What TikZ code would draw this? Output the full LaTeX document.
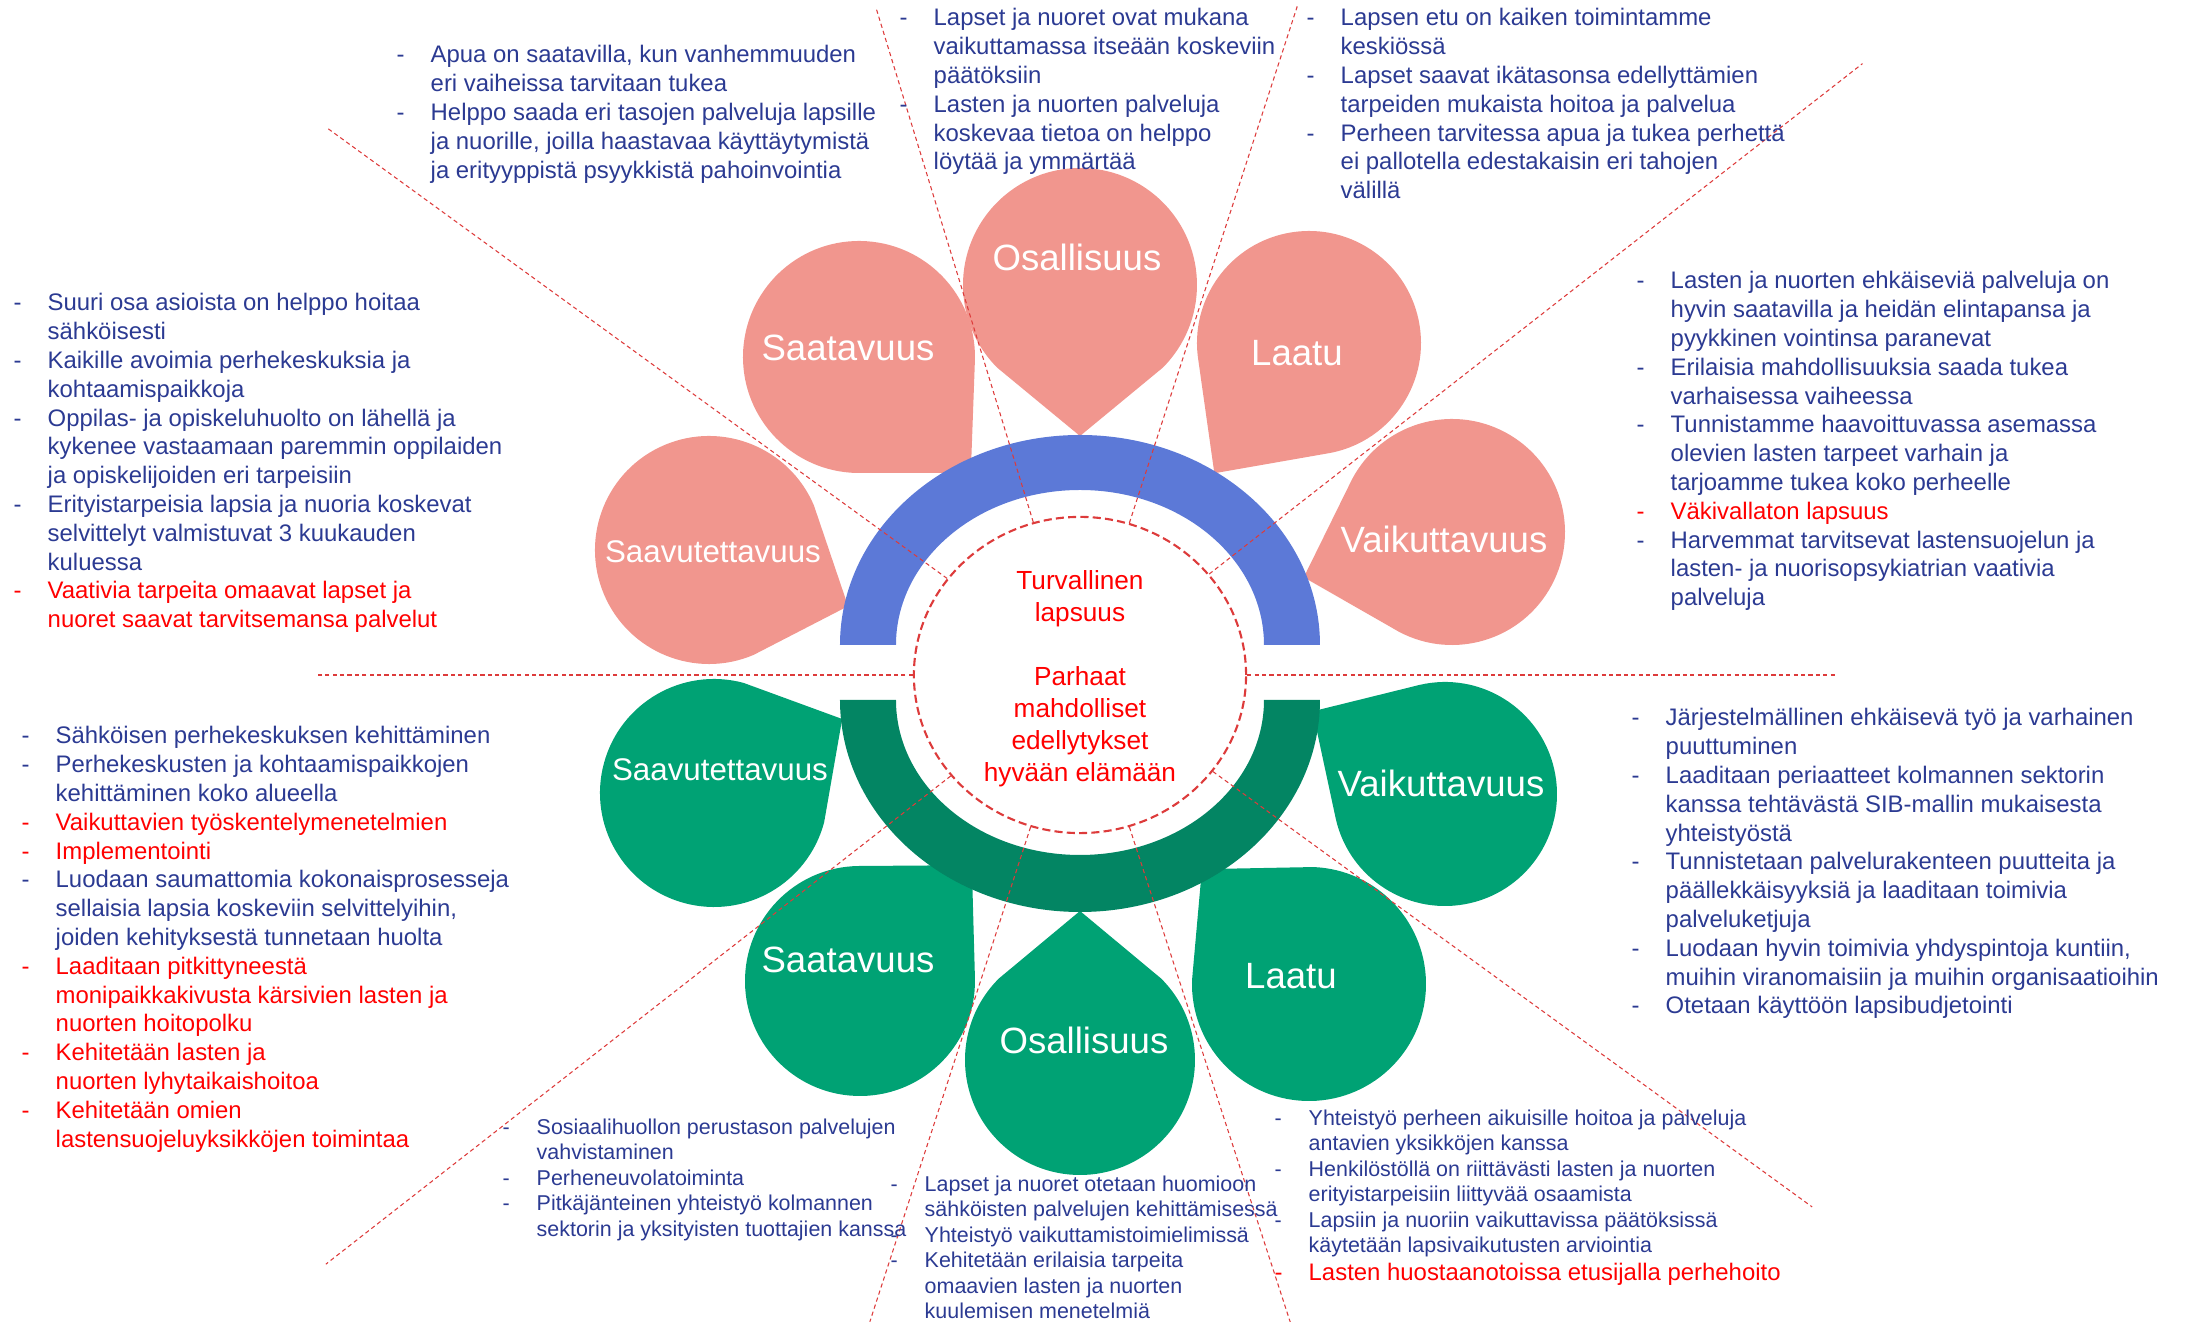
\documentclass[tikz,border=0pt]{standalone}
\usepackage{fontspec}
\setmainfont{Liberation Sans}
\usepackage{tikz}
\usetikzlibrary{shapes.geometric}

\definecolor{petalpink}{HTML}{F1968E}
\definecolor{petalgreen}{HTML}{00A274}
\definecolor{arcblue}{HTML}{5C79D7}
\definecolor{arcgreen}{HTML}{038563}
\definecolor{textnavy}{HTML}{2B3A92}
\definecolor{textred}{HTML}{FF0000}
\definecolor{rayred}{HTML}{DD3B3B}

\newlength{\bulw}
\setlength{\bulw}{0.34cm}
\newcommand{\bitem}{\strut\makebox[\bulw][l]{-}}
\newcommand{\bcont}{\strut\hspace*{\bulw}}
\newcommand{\hot}[1]{\leavevmode\textcolor{textred}{#1}}

\begin{document}
\begin{tikzpicture}[
    x=0.01cm, y=0.01cm,
    pinkpetal/.style={fill=petalpink},
    greenpetal/.style={fill=petalgreen},
    petallabel/.style={text=white, font=\fontsize{10.4}{12.5}\selectfont},
    longlabel/.style={petallabel, font=\fontsize{8.9}{10.7}\selectfont},
    hubring/.style={ellipse, draw=rayred, line width=0.6pt, dash pattern=on 2.3pt off 1.2pt,
        minimum width=3.32cm, minimum height=3.16cm, inner sep=0pt},
    raydash/.style={draw=rayred, line width=0.3pt, dash pattern=on 1.2pt off 0.9pt},
    goaltext/.style={text=textred, align=center, inner sep=0pt, font=\fontsize{7.45}{9.1}\selectfont},
    notebox/.style={anchor=north west, inner sep=0pt, align=left, text=textnavy,
        font=\fontsize{6.8}{8.19}\selectfont},
    smallnote/.style={notebox, font=\fontsize{6.1}{7.23}\selectfont}
]
    \useasboundingbox (-1080,-647) rectangle (1107,675);

    % Upper (pink) petals, each tip turned to the middle
    \fill[pinkpetal, shift={(-371,125)}, rotate=-22] (45:114) arc[start angle=45, end angle=315, radius=114] -- (0:150) -- cycle;
    \fill[pinkpetal, shift={(-221,318)}, rotate=-46] (45:116) arc[start angle=45, end angle=315, radius=116] -- (0:161) -- cycle;
    \fill[pinkpetal, shift={(0,390)}, rotate=-90] (45:117) arc[start angle=45, end angle=315, radius=117] -- (0:151) -- cycle;
    \fill[pinkpetal, shift={(229,332)}, rotate=234] (45:112) arc[start angle=45, end angle=315, radius=112] -- (0:161) -- cycle;
    \fill[pinkpetal, shift={(372,143)}, rotate=197] (45:113) arc[start angle=45, end angle=315, radius=113] -- (0:155) -- cycle;

    % Lower (green) petals
    \fill[greenpetal, shift={(-366,-118)}, rotate=30] (45:114) arc[start angle=45, end angle=315, radius=114] -- (0:148) -- cycle;
    \fill[greenpetal, shift={(-220,-306)}, rotate=46] (45:115) arc[start angle=45, end angle=315, radius=115] -- (0:161) -- cycle;
    \fill[greenpetal, shift={(0,-385)}, rotate=90] (45:115) arc[start angle=45, end angle=315, radius=115] -- (0:149) -- cycle;
    \fill[greenpetal, shift={(229,-309)}, rotate=133] (45:117) arc[start angle=45, end angle=315, radius=117] -- (0:157) -- cycle;
    \fill[greenpetal, shift={(365,-119)}, rotate=148] (45:112) arc[start angle=45, end angle=315, radius=112] -- (0:156) -- cycle;

    % The two half rings
    \fill[arcblue] (-240,30) arc[start angle=180, end angle=0, x radius=240, y radius=210]
        -- (184,30) arc[start angle=0, end angle=180, x radius=184, y radius=155] -- cycle;
    \fill[arcgreen] (-240,-25) arc[start angle=180, end angle=360, x radius=240, y radius=212]
        -- (184,-25) arc[start angle=0, end angle=-180, x radius=184, y radius=155] -- cycle;

    % Petal names
    \node[longlabel] (pSaav) at (-367,123) {Saavutettavuus};
    \node[petallabel] (pSaat) at (-232,327) {Saatavuus};
    \node[petallabel] (pOsal) at (-3,418) {Osallisuus};
    \node[petallabel] (pLaat) at (217,322) {Laatu};
    \node[petallabel] (pVaik) at (364,136) {Vaikuttavuus};
    \node[longlabel] (gSaav) at (-360,-95) {Saavutettavuus};
    \node[petallabel] (gSaat) at (-232,-285) {Saatavuus};
    \node[petallabel] (gOsal) at (4,-365) {Osallisuus};
    \node[petallabel] (gLaat) at (211,-301) {Laatu};
    \node[petallabel] (gVaik) at (361,-108) {Vaikuttavuus};

    % Middle
    \node[hubring] (hub) at (0,0) {};
    \node[goaltext] (goal) at (0,-4) {Turvallinen\\lapsuus\\[9.1pt]Parhaat\\mahdolliset\\edellytykset\\hyvään elämään};

    % Dashed dividers from the middle
    \path[raydash]
        (hub.0) edge (0:756)
        (hub.38) edge (38:993)
        (hub.72) edge (72:703)
        (hub.107) edge (107:698)
        (hub.144) edge (144:930)
        (hub.180) edge (180:764)
        (hub.218) edge (218:957)
        (hub.252) edge (252:680)
        (hub.288) edge (288:682)
        (hub.324) edge (324:905);

    % Aims for the upper petals
    \node[notebox] (tpSaat) at (-684,633) {\bitem Apua on saatavilla, kun vanhemmuuden\\
        \bcont eri vaiheissa tarvitaan tukea\\
        \bitem Helppo saada eri tasojen palveluja lapsille\\
        \bcont ja nuorille, joilla haastavaa käyttäytymistä\\
        \bcont ja erityyppistä psyykkistä pahoinvointia};
    \node[notebox] (tpSaav) at (-1067,385) {\bitem Suuri osa asioista on helppo hoitaa\\
        \bcont sähköisesti\\
        \bitem Kaikille avoimia perhekeskuksia ja\\
        \bcont kohtaamispaikkoja\\
        \bitem Oppilas- ja opiskeluhuolto on lähellä ja\\
        \bcont kykenee vastaamaan paremmin oppilaiden\\
        \bcont ja opiskelijoiden eri tarpeisiin\\
        \bitem Erityistarpeisia lapsia ja nuoria koskevat\\
        \bcont selvittelyt valmistuvat 3 kuukauden\\
        \bcont kuluessa\\
        \hot{\bitem Vaativia tarpeita omaavat lapset ja}\\
        \hot{\bcont nuoret saavat tarvitsemansa palvelut}};
    \node[notebox] (tpOsal) at (-181,670) {\bitem Lapset ja nuoret ovat mukana\\
        \bcont vaikuttamassa itseään koskeviin\\
        \bcont päätöksiin\\
        \bitem Lasten ja nuorten palveluja\\
        \bcont koskevaa tietoa on helppo\\
        \bcont löytää ja ymmärtää};
    \node[notebox] (tpLaat) at (226,670) {\bitem Lapsen etu on kaiken toimintamme\\
        \bcont keskiössä\\
        \bitem Lapset saavat ikätasonsa edellyttämien\\
        \bcont tarpeiden mukaista hoitoa ja palvelua\\
        \bitem Perheen tarvitessa apua ja tukea perhettä\\
        \bcont ei pallotella edestakaisin eri tahojen\\
        \bcont välillä};
    \node[notebox] (tpVaik) at (556,407) {\bitem Lasten ja nuorten ehkäiseviä palveluja on\\
        \bcont hyvin saatavilla ja heidän elintapansa ja\\
        \bcont pyykkinen vointinsa paranevat\\
        \bitem Erilaisia mahdollisuuksia saada tukea\\
        \bcont varhaisessa vaiheessa\\
        \bitem Tunnistamme haavoittuvassa asemassa\\
        \bcont olevien lasten tarpeet varhain ja\\
        \bcont tarjoamme tukea koko perheelle\\
        \hot{\bitem Väkivallaton lapsuus}\\
        \bitem Harvemmat tarvitsevat lastensuojelun ja\\
        \bcont lasten- ja nuorisopsykiatrian vaativia\\
        \bcont palveluja};

    % Actions for the lower petals
    \node[notebox] (tgSaav) at (-1059,-48) {\bitem Sähköisen perhekeskuksen kehittäminen\\
        \bitem Perhekeskusten ja kohtaamispaikkojen\\
        \bcont kehittäminen koko alueella\\
        \hot{\bitem Vaikuttavien työskentelymenetelmien}\\
        \hot{\bitem Implementointi}\\
        \bitem Luodaan saumattomia kokonaisprosesseja\\
        \bcont sellaisia lapsia koskeviin selvittelyihin,\\
        \bcont joiden kehityksestä tunnetaan huolta\\
        \hot{\bitem Laaditaan pitkittyneestä}\\
        \hot{\bcont monipaikkakivusta kärsivien lasten ja}\\
        \hot{\bcont nuorten hoitopolku}\\
        \hot{\bitem Kehitetään lasten ja}\\
        \hot{\bcont nuorten lyhytaikaishoitoa}\\
        \hot{\bitem Kehitetään omien}\\
        \hot{\bcont lastensuojeluyksikköjen toimintaa}};
    \node[notebox] (tgVaik) at (551,-30) {\bitem Järjestelmällinen ehkäisevä työ ja varhainen\\
        \bcont puuttuminen\\
        \bitem Laaditaan periaatteet kolmannen sektorin\\
        \bcont kanssa tehtävästä SIB-mallin mukaisesta\\
        \bcont yhteistyöstä\\
        \bitem Tunnistetaan palvelurakenteen puutteita ja\\
        \bcont päällekkäisyyksiä ja laaditaan toimivia\\
        \bcont palveluketjuja\\
        \bitem Luodaan hyvin toimivia yhdyspintoja kuntiin,\\
        \bcont muihin viranomaisiin ja muihin organisaatioihin\\
        \bitem Otetaan käyttöön lapsibudjetointi};
    \node[smallnote] (tgSaat) at (-578,-441) {\bitem Sosiaalihuollon perustason palvelujen\\
        \bcont vahvistaminen\\
        \bitem Perheneuvolatoiminta\\
        \bitem Pitkäjänteinen yhteistyö kolmannen\\
        \bcont sektorin ja yksityisten tuottajien kanssa};
    \node[smallnote] (tgOsal) at (-190,-498) {\bitem Lapset ja nuoret otetaan huomioon\\
        \bcont sähköisten palvelujen kehittämisessä\\
        \bitem Yhteistyö vaikuttamistoimielimissä\\
        \bitem Kehitetään erilaisia tarpeita\\
        \bcont omaavien lasten ja nuorten\\
        \bcont kuulemisen menetelmiä};
    \node[smallnote] (tgLaat) at (194,-432) {\bitem Yhteistyö perheen aikuisille hoitoa ja palveluja\\
        \bcont antavien yksikköjen kanssa\\
        \bitem Henkilöstöllä on riittävästi lasten ja nuorten\\
        \bcont erityistarpeisiin liittyvää osaamista\\
        \bitem Lapsiin ja nuoriin vaikuttavissa päätöksissä\\
        \bcont käytetään lapsivaikutusten arviointia};
    \node[notebox] (tgLaatRed) at (194,-585) {\hot{\bitem Lasten huostaanotoissa etusijalla perhehoito}};
\end{tikzpicture}
\end{document}
